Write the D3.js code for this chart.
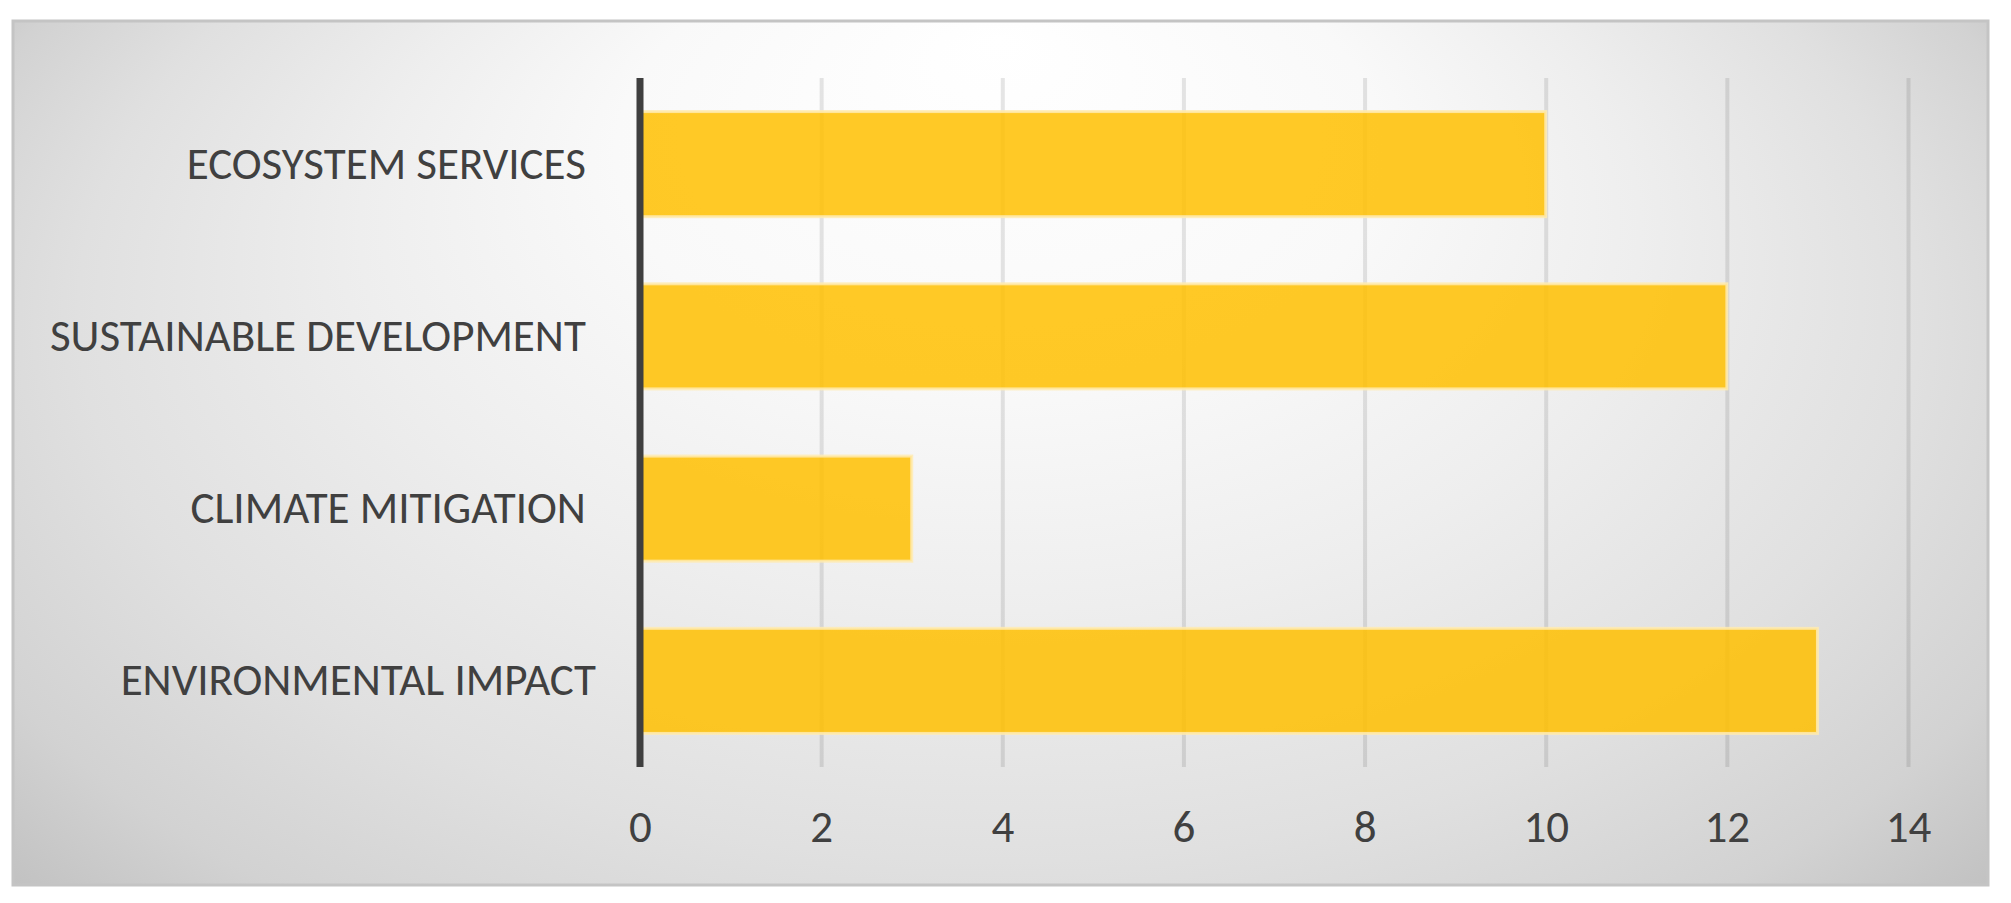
<!DOCTYPE html>
<html>
<head>
<meta charset="utf-8">
<script src="https://cdn.jsdelivr.net/npm/d3@7"></script>
<style>
  html, body { margin: 0; padding: 0; background: #ffffff; }
  svg { display: block; }
</style>
</head>
<body>
<svg id="chart" width="2011" height="903"></svg>
<script>
// ---- data ----
const categories = ["ECOSYSTEM SERVICES ", "SUSTAINABLE DEVELOPMENT ", "CLIMATE MITIGATION ", "ENVIRONMENTAL IMPACT"];
const values = [10, 12, 3, 13];
const xTicks = [0, 2, 4, 6, 8, 10, 12, 14];
const xDomain = [0, 14];

// ---- layout ----
const W = 2011, H = 903;
const frame = { x: 13, y: 21, w: 1975, h: 864 };
const plot = { left: 640, right: 1908, top: 78, bottom: 767 };
const FONT = "Carlito, Calibri, 'Liberation Sans Narrow', 'Open Sans', sans-serif";
const TEXT = "#404040";

const svg = d3.select("#chart");
const defs = svg.append("defs");

// background gradient (radial, bright near top centre)
const bg = defs.append("radialGradient")
  .attr("id", "bgGrad")
  .attr("gradientUnits", "userSpaceOnUse")
  .attr("cx", 0).attr("cy", 0).attr("r", 1)
  .attr("fx", 0).attr("fy", -0.5)
  .attr("gradientTransform", "translate(1000,420) scale(1280,760)");
[[0, "#ffffff"], [0.3, "#f9f9f9"], [0.5, "#eeeeee"], [0.72, "#e0e0e0"], [0.88, "#d2d2d2"], [1, "#c0c0c0"]]
  .forEach(([o, c]) => bg.append("stop").attr("offset", o).attr("stop-color", c));

// gridline gradient (lighter at top, darker at bottom)
const gg = defs.append("linearGradient")
  .attr("id", "gridGrad")
  .attr("gradientUnits", "userSpaceOnUse")
  .attr("x1", 0).attr("y1", plot.top).attr("x2", 0).attr("y2", plot.bottom);
gg.append("stop").attr("offset", 0).attr("stop-color", "#000").attr("stop-opacity", 0.1);
gg.append("stop").attr("offset", 0.5).attr("stop-color", "#000").attr("stop-opacity", 0.26);
gg.append("stop").attr("offset", 1).attr("stop-color", "#000").attr("stop-opacity", 0.55);

// frame
svg.append("rect")
  .attr("x", frame.x).attr("y", frame.y).attr("width", frame.w).attr("height", frame.h)
  .attr("fill", "url(#bgGrad)")
  .attr("stroke", "#c4c4c4").attr("stroke-width", 3);

// scales
const x = d3.scaleLinear().domain(xDomain).range([plot.left, plot.right]);
const y = d3.scaleBand().domain(categories).range([plot.top, plot.bottom])
  .paddingInner(0.39).paddingOuter(0.195);

// x axis: gridlines + tick labels
const xAxis = svg.append("g")
  .attr("transform", `translate(0,${plot.bottom})`)
  .call(d3.axisBottom(x).tickValues(xTicks).tickFormat(d3.format("d"))
        .tickSize(-(plot.bottom - plot.top)).tickPadding(0));
xAxis.select(".domain").remove();
xAxis.selectAll(".tick line")
  .attr("stroke", "url(#gridGrad)")
  .attr("stroke-width", 4);
xAxis.selectAll(".tick text")
  .attr("y", 59).attr("dy", "0.35em")
  .attr("fill", TEXT)
  .style("font-family", FONT).style("font-size", "45px");

// bars
svg.append("g").selectAll("rect")
  .data(values)
  .join("rect")
  .attr("x", x(0))
  .attr("y", (d, i) => y(categories[i]))
  .attr("width", d => x(d) - x(0))
  .attr("height", y.bandwidth())
  .attr("fill", "#FFC000").attr("fill-opacity", 0.85)
  .attr("stroke", "#FFEBB0").attr("stroke-opacity", 0.85).attr("stroke-width", 3);

// category axis line
svg.append("line")
  .attr("x1", x(0)).attr("x2", x(0))
  .attr("y1", plot.top).attr("y2", plot.bottom)
  .attr("stroke", "#3f3f3f").attr("stroke-width", 7);

// category labels
const yAxis = svg.append("g")
  .attr("transform", `translate(${x(0)},0)`)
  .call(d3.axisLeft(y).tickSize(0).tickPadding(44));
yAxis.select(".domain").remove();
yAxis.selectAll(".tick text")
  .attr("fill", TEXT)
  .style("white-space", "pre")
  .style("font-family", FONT).style("font-size", "45px");
</script>
</body>
</html>
